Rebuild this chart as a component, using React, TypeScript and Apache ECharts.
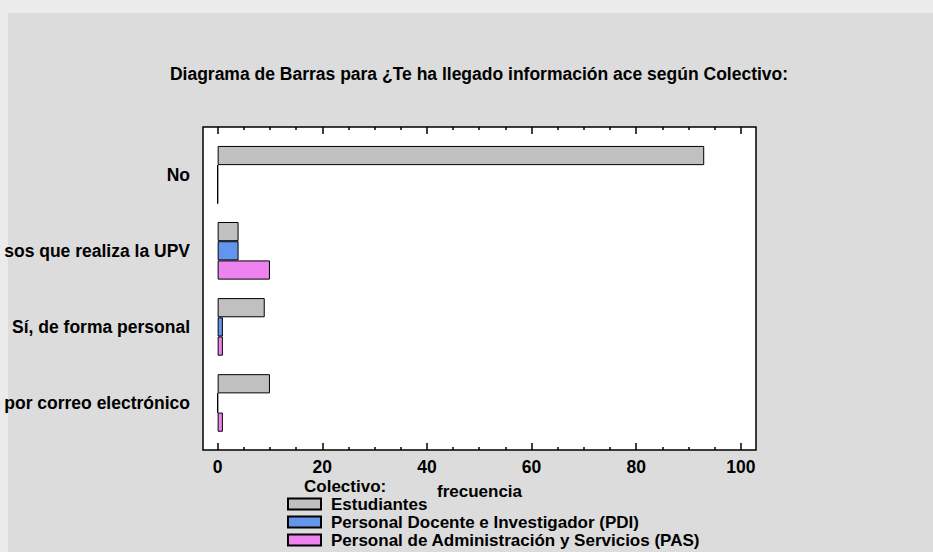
import React, { useEffect, useRef } from "react";
import * as echarts from "echarts";

const TITLE = "Diagrama de Barras para ¿Te ha llegado información ace según Colectivo:";
const CATEGORIES = ["No", "sos que realiza la UPV", "Sí, de forma personal", "por correo electrónico"];
const SERIES_NAMES = [
  "Estudiantes",
  "Personal Docente e Investigador (PDI)",
  "Personal de Administración y Servicios (PAS)",
];
const ESTUDIANTES = [93, 4, 9, 10];
const PDI = [0, 4, 1, 0];
const PAS = [0, 10, 1, 1];
const MAJOR_TICKS = [0, 20, 40, 60, 80, 100];
const MINOR_TICKS = [5, 10, 15, 25, 30, 35, 45, 50, 55, 65, 70, 75, 85, 90, 95];
const X_MIN = -2.8;
const X_MAX = 102.9;
const X_NAME = "frecuencia";
const LEGEND_TITLE = "Colectivo:";

const COLORS = ["#C0C0C0", "#6495ED", "#EE82EE"];
const FONT = "'Liberation Sans', Arial, Helvetica, sans-serif";
const FS = 17.5;
const FS_LEG = 17;
const BAR_W = 19.2;

export default function App() {
  const ref = useRef<HTMLDivElement>(null);
  useEffect(() => {
    if (!ref.current) return;
    const chart = echarts.init(ref.current, null, { renderer: "svg" });
    const values = [ESTUDIANTES, PDI, PAS];
    const zeroData: number[][] = [];
    values.forEach((arr, s) =>
      arr.forEach((v, c) => {
        if (v === 0) zeroData.push([v, c, s]);
      })
    );
    const txt = { fontFamily: FONT, fontSize: FS, fontWeight: "bold" as const, color: "#000" };
    const frameAxis = (pos: "top" | "bottom", ticks: number[], len: number, labels: boolean) => ({
      type: "value" as const,
      gridIndex: 0,
      position: pos,
      min: X_MIN,
      max: X_MAX,
      axisLine: { show: false },
      splitLine: { show: false },
      axisTick: { show: true, inside: true, length: len, customValues: ticks, lineStyle: { color: "#000", width: 1.5 } },
      axisLabel: labels
        ? { show: true, customValues: ticks, margin: 8, ...txt }
        : { show: false },
    });
    chart.setOption({
      animation: false,
      textStyle: { fontFamily: FONT },
      graphic: [
        {
          type: "text",
          x: 479,
          y: 74,
          style: { text: TITLE, fill: "#000", align: "center", verticalAlign: "middle", font: `bold ${FS}px ${FONT}` },
        },
        {
          type: "text",
          x: 304,
          y: 486,
          style: { text: LEGEND_TITLE, fill: "#000", align: "left", verticalAlign: "middle", font: `bold ${FS_LEG}px ${FONT}` },
        },
      ],
      grid: [
        {
          left: 203,
          top: 127,
          width: 553,
          height: 323,
          show: true,
          backgroundColor: "#FFFFFF",
          borderColor: "#000",
          borderWidth: 1.5,
        },
        {
          left: 203,
          top: 136.7,
          width: 553,
          height: 304.3,
        },
      ],
      xAxis: [
        {
          ...frameAxis("bottom", MAJOR_TICKS, 7, true),
          name: X_NAME,
          nameLocation: "middle",
          nameGap: 33,
          nameTextStyle: { ...txt, fontSize: FS_LEG },
        },
        frameAxis("bottom", MINOR_TICKS, 3, false),
        frameAxis("top", MAJOR_TICKS, 7, false),
        frameAxis("top", MINOR_TICKS, 3, false),
        {
          type: "value",
          gridIndex: 1,
          min: X_MIN,
          max: X_MAX,
          show: false,
        },
      ],
      yAxis: [
        { type: "value", gridIndex: 0, show: false },
        {
          type: "category",
          gridIndex: 1,
          inverse: true,
          data: CATEGORIES,
          axisLine: { show: false },
          axisTick: { show: false },
          splitLine: { show: false },
          axisLabel: { margin: 13, padding: [5, 0, 0, 0], ...txt },
        },
      ],
      legend: {
        orient: "vertical",
        left: 287,
        top: 495,
        padding: 0,
        icon: "rect",
        itemWidth: 33,
        itemHeight: 11,
        itemGap: 0,
        data: SERIES_NAMES,
        textStyle: { ...txt, fontSize: FS_LEG, lineHeight: 18, padding: [0, 0, 0, 5] },
        selectedMode: false,
      },
      series: [
        ...values.map((arr, i) => ({
          type: "bar" as const,
          name: SERIES_NAMES[i],
          xAxisIndex: 4,
          yAxisIndex: 1,
          data: arr,
          barWidth: BAR_W,
          barGap: "0%",
          itemStyle: { color: COLORS[i], borderColor: "#000", borderWidth: 1 },
        })),
        {
          type: "custom",
          xAxisIndex: 4,
          yAxisIndex: 1,
          data: zeroData,
          silent: true,
          renderItem: (params: any, api: any) => {
            const v = api.value(0);
            const c = api.value(1);
            const s = api.value(2);
            const p = api.coord([v, c]);
            const top = p[1] + (s - 1.5) * BAR_W;
            return {
              type: "line",
              shape: { x1: p[0], y1: top, x2: p[0], y2: top + BAR_W },
              style: { stroke: "#000", lineWidth: 1 },
            };
          },
        },
      ],
    });
    return () => chart.dispose();
  }, []);
  return (
    <div style={{ position: "absolute", left: 0, top: 0, width: 933, height: 552, background: "#EBEBEB" }}>
      <div style={{ position: "absolute", left: 8, top: 13, right: 0, bottom: 0, background: "#DCDCDC" }} />
      <div ref={ref} style={{ position: "absolute", left: 0, top: 0, width: 933, height: 552 }} />
    </div>
  );
}
